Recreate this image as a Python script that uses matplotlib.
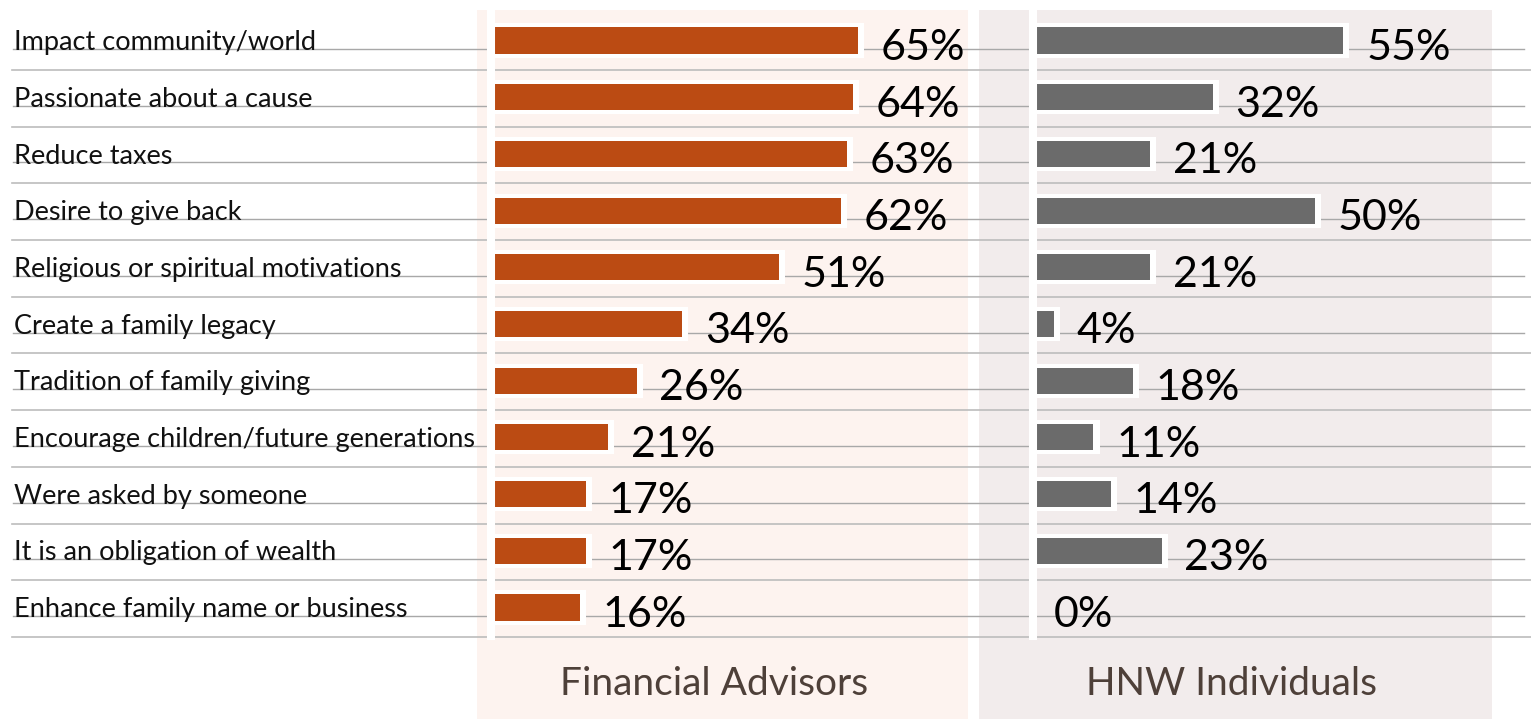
import matplotlib
matplotlib.use('Agg')
import matplotlib.pyplot as plt
import matplotlib.transforms as mtransforms
from matplotlib.patches import Rectangle
import numpy as np

categories = ['Impact community/world', 'Passionate about a cause', 'Reduce taxes',
              'Desire to give back', 'Religious or spiritual motivations',
              'Create a family legacy', 'Tradition of family giving',
              'Encourage children/future generations', 'Were asked by someone',
              'It is an obligation of wealth', 'Enhance family name or business']
advisors = [65, 64, 63, 62, 51, 34, 26, 21, 17, 17, 16]
hnw = [55, 32, 21, 50, 21, 4, 18, 11, 14, 23, 0]
group_names = ['Financial Advisors', 'HNW Individuals']

plt.rcParams['font.family'] = ['Lato', 'DejaVu Sans']

W, H = 1531, 719
fig = plt.figure(figsize=(W / 100, H / 100), dpi=100)

def fx(px):
    return px / W

def fy(px):
    return 1 - px / H

# panel backgrounds
fig.add_artist(Rectangle((fx(477), 0), fx(968) - fx(477), fy(10), transform=fig.transFigure,
                         facecolor='#fdf3ef', edgecolor='none', zorder=-5))
fig.add_artist(Rectangle((fx(979), 0), fx(1492) - fx(979), fy(10), transform=fig.transFigure,
                         facecolor='#f2ecec', edgecolor='none', zorder=-5))

n = len(categories)
y = np.arange(n)
top_px, bot_px = 10, 640
c0, pitch = 40.5, 56.7
ylim = ((bot_px - c0) / pitch, (top_px - c0) / pitch)
ax_bottom = fy(bot_px)
ax_height = fy(top_px) - fy(bot_px)

# full width axes for labels and rules
ax0 = fig.add_axes([0, ax_bottom, 1, ax_height])
ax0.set_ylim(*ylim)
ax0.set_xlim(0, 1)
ax0.axis('off')
trans = mtransforms.blended_transform_factory(ax0.transAxes, ax0.transData)
for i, lab in enumerate(categories):
    ax0.text(fx(14), i + 0.17, lab, transform=trans, fontsize=19.5, color='#111111', va='baseline')
    ax0.axhline(i + 0.15, xmin=fx(13), xmax=fx(1524), color='#a8a8a8', lw=1)
    ax0.axhline(i + 0.52, xmin=fx(12), xmax=1, color='#bcbcbc', lw=1.2)

scale = 5.68  # px per percent
panels = [(advisors, '#bb4b13', 477, 968, 489), (hnw, '#6b6b6b', 979, 1492, 1031)]
for vals, col, left, right, origin in panels:
    ax = fig.add_axes([fx(left), ax_bottom, fx(right) - fx(left), ax_height])
    ax.set_xlim((left - origin) / scale, (right - origin) / scale)
    ax.set_ylim(*ylim)
    ax.axis('off')
    ax.barh(y, np.array(vals) + 1.06, height=0.6, color='white', zorder=2)
    ax.barh(y, vals, height=0.46, color=col, zorder=3)
    ax.axvline(0.35, ymin=0.005, ymax=1, color='white', lw=5.8, zorder=4)
    for i, v in enumerate(vals):
        ax.text(v + 4.0, i + 0.13, f'{v}%', fontsize=31, color='black', va='center', ha='left', zorder=5)

fig.text(fx(714), fy(684), group_names[0], fontsize=28, color='#4e4039', ha='center', va='center')
fig.text(fx(1231), fy(684), group_names[1], fontsize=28, color='#4e4039', ha='center', va='center')

fig.savefig('out.png', dpi=100)
